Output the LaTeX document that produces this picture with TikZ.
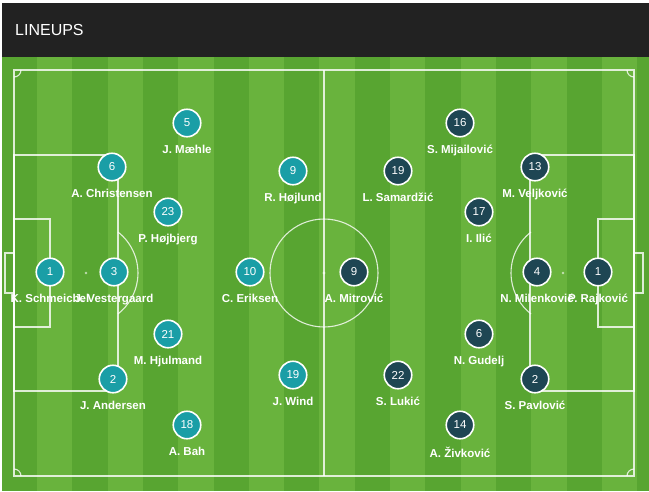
\documentclass[tikz,border=0pt]{standalone}
\usepackage{fontspec}
\setmainfont{Liberation Sans}
\usetikzlibrary{positioning}
\definecolor{header}{HTML}{222222}
\definecolor{grassdark}{HTML}{58A531}
\definecolor{grasslight}{HTML}{69B33D}
\definecolor{denmark}{HTML}{1A9EA6}
\definecolor{serbia}{HTML}{1E4653}

\begin{document}
\begin{tikzpicture}[x=1pt,y=-1pt,
  line/.style={draw=white,draw opacity=0.8,line width=1.1pt},
  dk/.style={circle,draw=white,line width=1.6pt,fill=denmark,text=white,minimum size=27.5pt,inner sep=0pt,font=\fontsize{11.5}{13}\selectfont},
  sb/.style={dk,fill=serbia},
  pname/.style={text=white,font=\bfseries\fontsize{11.5}{13}\selectfont,inner sep=0pt,node distance=7pt}]
\useasboundingbox (0,0) rectangle (649,491);
\fill[white] (0,0) rectangle (649,491);

% header
\fill[header] (2,3) rectangle (649,57);
\node[anchor=west,text=white,font=\fontsize{16}{18}\selectfont,inner sep=0pt] (title) at (15,30) {LINEUPS};

% grass stripes
\fill[grassdark] (2,57) rectangle (649,491);
\foreach \i in {0,...,8}
  \fill[grasslight] (37+70.6*\i,57) rectangle ++(35.3,434);

% pitch lines
\draw[line] (14,70) rectangle (634,476);
\draw[line] (324,70) -- (324,476);
\draw[line] (324,273) circle (54);
\fill[white,opacity=0.6] (324,273) circle (1.6);
\draw[line] (14,155) rectangle (118,391);
\draw[line] (14,219) rectangle (50,327);
\draw[line] (14,253) rectangle (5,293);
\fill[white,opacity=0.6] (86,273) circle (1.4);
\draw[line] (118,232) arc[start angle=-52,end angle=52,radius=52];
\draw[line] (634,155) rectangle (530,391);
\draw[line] (634,219) rectangle (598,327);
\draw[line] (634,253) rectangle (643,293);
\fill[white,opacity=0.6] (563,273) circle (1.4);
\draw[line] (531,232) arc[start angle=232,end angle=128,radius=52];
\draw[line] (21,70) arc[start angle=0,end angle=90,radius=7];
\draw[line] (14,469) arc[start angle=-90,end angle=0,radius=7];
\draw[line] (627,70) arc[start angle=180,end angle=90,radius=7];
\draw[line] (634,469) arc[start angle=-90,end angle=-180,radius=7];

% Denmark
\node[dk] at (50,272) (d1) {1};
\node[pname, below=of d1] (n1) {K. Schmeichel};
\node[dk] at (114,272) (d3) {3};
\node[pname, below=of d3] (n3) {J. Vestergaard};
\node[dk] at (112,167) (d6) {6};
\node[pname, below=of d6] (n6) {A. Christensen};
\node[dk] at (187,123) (d5) {5};
\node[pname, below=of d5] (n5) {J. Mæhle};
\node[dk] at (168,212) (d23) {23};
\node[pname, below=of d23] (n23) {P. Højbjerg};
\node[dk] at (293,171) (d9) {9};
\node[pname, below=of d9] (n9) {R. Højlund};
\node[dk] at (250,272) (d10) {10};
\node[pname, below=of d10] (n10) {C. Eriksen};
\node[dk] at (168,334) (d21) {21};
\node[pname, below=of d21] (n21) {M. Hjulmand};
\node[dk] at (113,379) (d2) {2};
\node[pname, below=of d2] (n2) {J. Andersen};
\node[dk] at (293,375) (d19) {19};
\node[pname, below=of d19] (n19) {J. Wind};
\node[dk] at (187,425) (d18) {18};
\node[pname, below=of d18] (n18) {A. Bah};

% Serbia
\node[sb] at (598,272) (s1) {1};
\node[pname, below=of s1] (m1) {P. Rajković};
\node[sb] at (537,272) (s4) {4};
\node[pname, below=of s4] (m4) {N. Milenković};
\node[sb] at (460,123) (s16) {16};
\node[pname, below=of s16] (m16) {S. Mijailović};
\node[sb] at (535,167) (s13) {13};
\node[pname, below=of s13] (m13) {M. Veljković};
\node[sb] at (398,171) (s19) {19};
\node[pname, below=of s19] (m19) {L. Samardžić};
\node[sb] at (479,212) (s17) {17};
\node[pname, below=of s17] (m17) {I. Ilić};
\node[sb] at (354,272) (s9) {9};
\node[pname, below=of s9] (m9) {A. Mitrović};
\node[sb] at (479,334) (s6) {6};
\node[pname, below=of s6] (m6) {N. Gudelj};
\node[sb] at (398,375) (s22) {22};
\node[pname, below=of s22] (m22) {S. Lukić};
\node[sb] at (535,379) (s2) {2};
\node[pname, below=of s2] (m2) {S. Pavlović};
\node[sb] at (460,425) (s14) {14};
\node[pname, below=of s14] (m14) {A. Živković};
\end{tikzpicture}
\end{document}
